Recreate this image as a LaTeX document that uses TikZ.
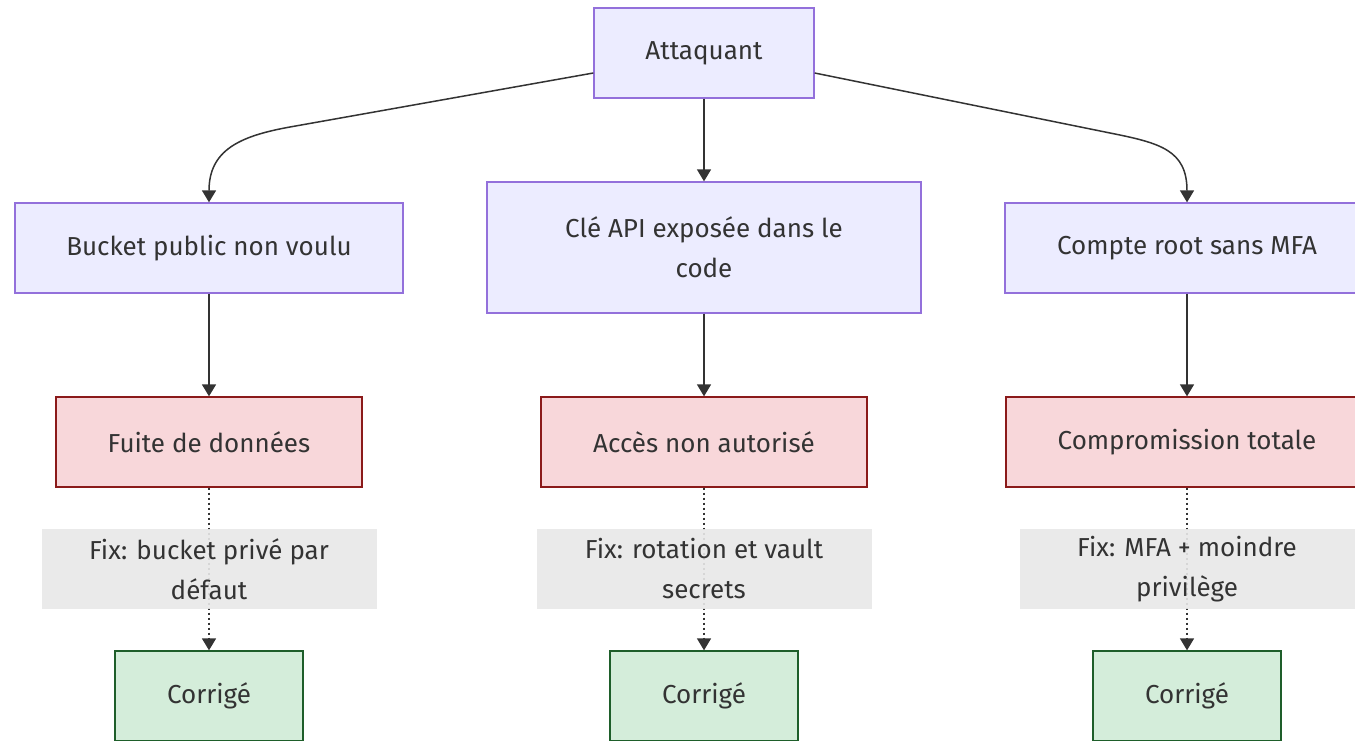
\documentclass[tikz,border=0pt]{standalone}
\usepackage{fontspec}
\setmainfont{Fira Sans}
\usetikzlibrary{arrows.meta}
\definecolor{txt}{HTML}{333333}
\definecolor{pfill}{HTML}{ECECFF}
\definecolor{pdraw}{HTML}{9370DB}
\definecolor{rfill}{HTML}{F8D7DA}
\definecolor{rdraw}{HTML}{8B1A1A}
\definecolor{gfill}{HTML}{D4EDDA}
\definecolor{gdraw}{HTML}{1E5E2A}
\definecolor{lbl}{HTML}{E8E8E8}
\definecolor{edge}{HTML}{333333}
\begin{document}
\begin{tikzpicture}[x=1pt,y=-1pt,
  base/.style={rectangle, line width=1.3pt, text=txt, align=center,
    font=\fontsize{26}{40}\selectfont, inner sep=0pt},
  pbox/.style={base, fill=pfill, draw=pdraw},
  rbox/.style={base, fill=rfill, draw=rdraw},
  gbox/.style={base, fill=gfill, draw=gdraw},
  fixlbl/.style={rectangle, fill=lbl, fill opacity=0.9, text opacity=1, text=txt, align=center,
    font=\fontsize{26}{40}\selectfont, minimum width=335pt, minimum height=80pt, inner sep=0pt},
  arr/.style={draw=edge, line width=1.5pt, -{Triangle[width=14pt,length=12pt]}},
  dotarr/.style={arr, dash pattern=on 2pt off 3pt}
]
\useasboundingbox (0,0) rectangle (1355,741);
\clip (0,0) rectangle (1355,741);

\node[pbox, minimum width=220pt, minimum height=90pt] (att) at (704,53) {Attaquant};
\node[pbox, minimum width=388pt, minimum height=90pt] (buck) at (209,248) {Bucket public non voulu};
\node[pbox, minimum width=434pt, minimum height=131pt] (cle) at (704,247.5) {Clé API exposée dans le\\code};
\node[pbox, minimum width=364pt, minimum height=90pt] (root) at (1187,248) {Compte root sans MFA};

\node[rbox, minimum width=306pt, minimum height=90pt] (fuite) at (209,442) {Fuite de données};
\node[rbox, minimum width=326pt, minimum height=90pt] (acces) at (704,442) {Accès non autorisé};
\node[rbox, minimum width=362pt, minimum height=90pt] (comp) at (1187,442) {Compromission totale};

\node[gbox, minimum width=188pt, minimum height=90pt] (c1) at (209,696) {Corrigé};
\node[gbox, minimum width=188pt, minimum height=90pt] (c2) at (704,696) {Corrigé};
\node[gbox, minimum width=188pt, minimum height=90pt] (c3) at (1187,696) {Corrigé};

\draw[arr] ([yshift=-20pt]att.west) -- (290,127) .. controls (240,136) and (209,150) .. (buck.north);
\draw[arr] (att) -- (cle);
\draw[arr] ([yshift=-20pt]att.east) -- (1110,133) .. controls (1160,143) and (1187,150) .. (root.north);

\draw[arr] (buck) -- (fuite);
\draw[arr] (cle) -- (acces);
\draw[arr] (root) -- (comp);

\draw[dotarr] (fuite) -- node[fixlbl] {Fix: bucket privé par\\défaut} (c1);
\draw[dotarr] (acces) -- node[fixlbl] {Fix: rotation et vault\\secrets} (c2);
\draw[dotarr] (comp) -- node[fixlbl] {Fix: MFA + moindre\\privilège} (c3);
\end{tikzpicture}
\end{document}
